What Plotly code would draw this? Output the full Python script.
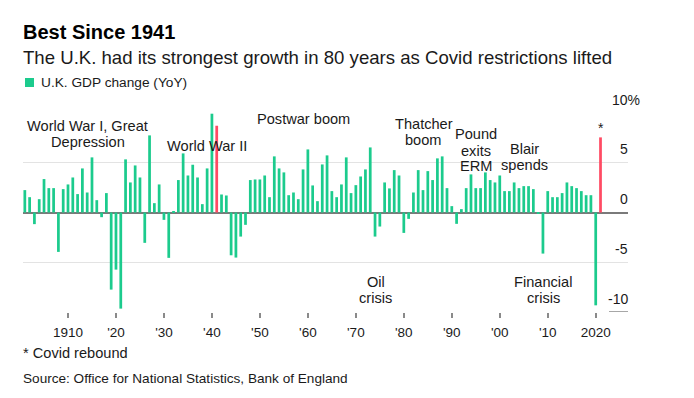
import plotly.graph_objects as go

years = list(range(1901, 2022))
gdp_change = [
    2.25, 1.54, -1.17, 1.34, 3.36, 2.45, 2.45, -3.96, 2.35, 2.82,   # 1901-1910
    3.52, 1.85, 4.43, 2.01, 5.54, 1.24, -0.47, 1.95, -7.75, -5.74,  # 1911-1920
    -9.66, 5.34, 3.02, 4.73, 3.52, -3.05, 7.75, 0.94, 2.82, -0.74,  # 1921-1930
    -4.56, 0.10, 3.26, 5.94, 3.72, 4.80, 3.52, 0.84, 4.43, 9.93,    # 1931-1940
    8.72, 1.81, 1.71, -4.30, -4.53, -2.42, -1.24, 3.26, 3.32, 3.32, # 1941-1950
    3.72, 1.54, 5.64, 4.43, 4.03, 1.74, 2.01, 1.34, 4.33, 6.34,     # 1951-1960
    2.72, 1.14, 4.83, 5.74, 2.15, 1.54, 2.82, 5.54, 1.95, 2.75,     # 1961-1970
    3.62, 4.33, 6.54, -2.42, -1.41, 3.02, 2.42, 4.26, 3.72, -2.05,  # 1971-1980
    -0.64, 2.01, 4.26, 2.25, 4.16, 3.26, 5.44, 5.64, 2.45, 0.64,    # 1981-1990
    -1.14, 0.34, 2.45, 3.83, 2.45, 2.45, 4.03, 3.26, 3.02, 3.72,    # 1991-2000
    2.15, 2.15, 3.02, 2.45, 2.65, 2.65, 2.35, -0.13, -4.13, 2.15,   # 2001-2010
    1.54, 1.54, 1.95, 3.02, 2.65, 2.45, 2.15, 1.74, 1.74, -9.33,    # 2011-2020
    7.55,                                                           # 2021
]
highlight_years = [1941, 2021]

tick_years = [1910, 1920, 1930, 1940, 1950, 1960, 1970, 1980, 1990, 2000, 2010, 2020]
tick_labels = ["1910", "'20", "'30", "'40", "'50", "'60", "'70", "'80", "'90", "'00", "'10", "2020"]
y_ticks = [10, 5, 0, -5, -10]
y_labels = ["10%", "5", "0", "-5", "-10"]

# event label lines: text, year position, value position
event_lines = [
    ("World War I, Great", 1914.07, 8.71),
    ("Depression", 1914.07, 7.07),
    ("World War II", 1938.9, 6.66),
    ("Postwar boom", 1959.0, 9.35),
    ("Thatcher", 1984.15, 8.91),
    ("boom", 1984.15, 7.24),
    ("Pound", 1995.05, 7.91),
    ("exits", 1995.05, 6.23),
    ("ERM", 1995.05, 4.72),
    ("Blair", 2005.1, 6.40),
    ("spends", 2005.1, 4.82),
    ("Oil", 1974.1, -7.0),
    ("crisis", 1974.1, -8.57),
    ("Financial", 2009.1, -7.0),
    ("crisis", 2009.1, -8.57),
]

GREEN = "#1ccb8d"
RED = "#ff4b63"
TEXT = "#1a1a1a"
FONT = "Liberation Sans, Arial, sans-serif"

colors = [RED if y in highlight_years else GREEN for y in years]

fig = go.Figure()
fig.add_trace(go.Bar(x=years, y=gdp_change, marker=dict(color=colors, line=dict(width=0)),
                     showlegend=False, hoverinfo="x+y"))

W, H = 694, 398
L, R, T, B = 23, 66, 113, 86

fig.update_layout(
    width=W, height=H,
    margin=dict(l=L, r=R, t=T, b=B, pad=0),
    plot_bgcolor="white", paper_bgcolor="white",
    bargap=0.43,
    font=dict(family=FONT, color=TEXT, size=14),
    xaxis=dict(range=[1900.62, 2026.73], tickvals=tick_years, ticktext=tick_labels,
               ticks="outside", ticklen=5, tickwidth=1.5, tickcolor="#8a8a8a",
               ticklabelstandoff=3,
               showgrid=False, zeroline=False, showline=False,
               tickfont=dict(size=13.5, color=TEXT)),
    yaxis=dict(range=[-10, 10], tickvals=[10, 5, -5], showticklabels=False,
               showgrid=True, gridcolor="#e3e3e3", gridwidth=1,
               zeroline=True, zerolinecolor="#7a7a7a", zerolinewidth=1.5,
               showline=False, fixedrange=True),
)


def py(pix):
    return 1 - (pix - T) / (H - T - B)


def px(pix):
    return (pix - L) / (W - L - R)


annotations = []
# y-axis labels sitting above gridlines, numbers right-aligned at plot edge
for v, lab in zip(y_ticks, y_labels):
    right_px = 642 if lab.endswith("%") else 630
    annotations.append(dict(xref="paper", yref="y", x=px(right_px), y=v, text=lab, showarrow=False,
                            xanchor="right", yanchor="middle", yshift=13.5,
                            font=dict(size=14, color=TEXT)))

for txt, xv, yv in event_lines:
    annotations.append(dict(xref="x", yref="y", x=xv, y=yv, text=txt, showarrow=False,
                            xanchor="center", yanchor="middle", align="center",
                            font=dict(size=14.6, color=TEXT)))
annotations.append(dict(xref="x", yref="y", x=2021, y=8.5, text="*", showarrow=False,
                        xanchor="center", yanchor="middle", font=dict(size=14, color=TEXT)))

annotations += [
    dict(xref="paper", yref="paper", x=px(21), y=py(32), text="<b>Best Since 1941</b>",
         showarrow=False, xanchor="left", yanchor="middle", font=dict(size=20, color="#000")),
    dict(xref="paper", yref="paper", x=px(21), y=py(57),
         text="The U.K. had its strongest growth in 80 years as Covid restrictions lifted",
         showarrow=False, xanchor="left", yanchor="middle", font=dict(size=18.6, color=TEXT)),
    dict(xref="paper", yref="paper", x=px(38.5), y=py(82), text="U.K. GDP change (YoY)",
         showarrow=False, xanchor="left", yanchor="middle", font=dict(size=13.7, color=TEXT)),
    dict(xref="paper", yref="paper", x=px(21), y=py(353), text="* Covid rebound",
         showarrow=False, xanchor="left", yanchor="middle", font=dict(size=14.6, color=TEXT)),
    dict(xref="paper", yref="paper", x=px(21), y=py(378),
         text="Source: Office for National Statistics, Bank of England",
         showarrow=False, xanchor="left", yanchor="middle", font=dict(size=13.6, color=TEXT)),
]
fig.update_layout(annotations=annotations)

shapes = [
    # legend swatch
    dict(type="rect", xref="paper", yref="paper", x0=px(25), x1=px(34), y0=py(87), y1=py(78),
         fillcolor=GREEN, line=dict(width=0)),
    # short stub of -10 gridline beneath its label
    dict(type="line", xref="x domain", yref="y", x0=(609 - L) / (W - L - R), x1=1, y0=-10, y1=-10,
         line=dict(color="#8a8a8a", width=1.5)),
]
fig.update_layout(shapes=shapes)

fig.write_html("out.html", config={"displayModeBar": False},
               post_script="document.body.style.margin='0';")
